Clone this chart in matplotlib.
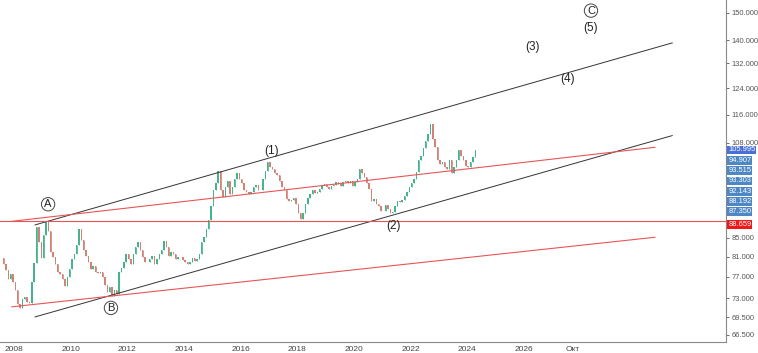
import numpy as np
import pandas as pd
import matplotlib
matplotlib.use("Agg")
import matplotlib.pyplot as plt
from matplotlib.transforms import blended_transform_factory

# ---------------- DATA ----------------
# monthly closes, Jul 2007 .. Apr 2024
closes = [
    80.8, 79.5, 78.3, 76.6, 77.5, 76.0,                                    # 2007 H2
    74.5, 71.9, 71.2, 72.8, 73.2, 72.3, 72.0, 76.0, 79.7, 87.3, 84.0, 80.8,  # 2008
    85.5, 88.5, 86.5, 82.0, 81.0, 79.5, 78.0, 77.5, 76.5, 75.2, 77.0, 78.5,  # 2009
    80.5, 81.5, 83.5, 86.8, 84.5, 82.5, 81.2, 80.0, 78.5, 79.2, 78.0, 77.8,  # 2010
    78.0, 77.0, 75.5, 74.2, 75.0, 73.4, 74.5, 73.8, 78.0, 78.8, 80.0, 81.6,  # 2011
    80.5, 79.5, 81.5, 83.0, 84.0, 82.5, 81.0, 80.0, 79.9, 80.5, 81.2, 79.5,  # 2012
    80.5, 81.5, 82.5, 84.2, 83.0, 81.2, 82.0, 81.5, 80.5, 81.0, 81.0, 80.3,  # 2013
    80.0, 79.5, 79.9, 80.8, 80.2, 80.5, 81.5, 84.0, 85.2, 87.0, 89.0, 92.0,  # 2014
    95.8, 97.5, 100.5, 96.0, 94.2, 96.5, 98.0, 94.9, 96.5, 98.5, 100.0, 98.5,  # 2015
    97.5, 96.0, 95.5, 94.9, 95.5, 96.5, 97.0, 95.8, 96.0, 98.5, 100.5, 103.0,  # 2016
    101.5, 101.0, 100.0, 99.5, 98.0, 96.5, 95.8, 93.8, 93.3, 93.5, 94.0, 92.5,  # 2017
    90.5, 89.2, 90.5, 92.5, 94.0, 94.9, 95.8, 95.2, 95.5, 96.2, 97.0, 97.3,  # 2018
    96.5, 96.2, 96.8, 97.0, 97.8, 97.3, 96.8, 97.8, 98.0, 97.5, 98.0, 96.8,  # 2019
    97.8, 98.5, 101.0, 100.2, 99.0, 97.5, 96.2, 93.3, 93.8, 92.5, 92.0, 91.0,  # 2020
    90.9, 92.4, 91.5, 90.5, 90.8, 92.0, 93.2, 93.0, 93.6, 94.5, 95.5, 96.5,  # 2021
    97.5, 98.5, 100.3, 103.5, 104.5, 106.5, 108.6, 110.5, 113.4, 109.0, 107.0, 103.5,  # 2022
    102.5, 103.0, 101.5, 101.0, 103.5, 100.2, 101.5, 103.5, 106.2, 104.5, 103.5, 102.0,  # 2023
    101.5, 103.0, 104.3, 106.0,                                            # 2024
]
dates = pd.date_range("2007-07-01", periods=len(closes), freq="MS")

# channel / trend lines: (year, price) start and end
black_lines = [((2008.74, 87.8), (2031.25, 139.0)),
               ((2008.74, 69.6), (2031.25, 110.0))]
red_lines = [((2007.92, 88.6), (2030.64, 106.8)),
             ((2007.92, 71.4), (2030.64, 85.1))]
red_level = 88.659

# wave labels
wave_text = ["(1)", "(2)", "(3)", "(4)", "(5)"]
wave_x = [2017.08, 2021.39, 2026.3, 2027.54, 2028.38]
wave_y = [105.7, 87.5, 137.7, 127.0, 144.4]
circ_text = ["A", "B", "C"]
circ_x = [2009.2, 2011.42, 2028.38]
circ_y = [92.5, 71.2, 150.8]

y_ticks = [150, 140, 132, 124, 116, 108, 85, 81, 77, 73, 69.5, 66.5]
x_ticks = [2008, 2010, 2012, 2014, 2016, 2018, 2020, 2022, 2024, 2026, 2027.75]
x_labels = ["2008", "2010", "2012", "2014", "2016", "2018", "2020", "2022", "2024", "2026", "Окт"]

price_tags = ["105.995", "94.907", "93.515", "93.303", "92.143", "88.192", "87.350", "88.659"]
tag_colors = ["#4a6fd6"] + ["#4d88c4"] * 6 + ["#f01818"]

# ---------------- FIGURE ----------------
plt.rcParams["font.family"] = ["Liberation Sans", "DejaVu Sans"]
fig = plt.figure(figsize=(7.58, 3.53), dpi=100)
ax = fig.add_axes([0, 1 - 342 / 353, 726 / 758, 342 / 353])

t = dates.year + (dates.month - 1) / 12 + 1 / 24
t = np.asarray(t, dtype=float)
c = np.array(closes)
o = np.concatenate([[c[0]], c[:-1]])
up = c >= o
ax.bar(t[up], c[up] - o[up], bottom=o[up], width=0.05, color="#45b48a", linewidth=0)
ax.bar(t[~up], o[~up] - c[~up], bottom=c[~up], width=0.05, color="#d08478", linewidth=0)
ax.vlines(t, np.minimum(o, c), np.maximum(o, c), colors=np.where(up, "#45b48a", "#d08478"), linewidth=0.6)

for (x0, y0), (x1, y1) in black_lines:
    ax.plot([x0, x1], [y0, y1], color="#333333", lw=0.7)
for (x0, y0), (x1, y1) in red_lines:
    ax.plot([x0, x1], [y0, y1], color="#e85555", lw=0.8)
ax.axhline(red_level, color="#e85555", lw=0.8)

for s, x, y in zip(wave_text, wave_x, wave_y):
    ax.text(x, y, s, ha="center", va="center", fontsize=8.5, color="#222222")
for s, x, y in zip(circ_text, circ_x, circ_y):
    ax.text(x, y, s, ha="center", va="center", fontsize=8, color="#222222",
            bbox=dict(boxstyle="circle,pad=0.15", fc="white", ec="#444444", lw=0.7))

ax.set_yscale("log")
ax.set_xlim(2007.5, 2033.15)
ax.set_ylim(65.33, 154.9)

ax.yaxis.tick_right()
ax.set_yticks(y_ticks)
ax.set_yticklabels(["%.3f" % v for v in y_ticks])
ax.yaxis.set_minor_locator(matplotlib.ticker.NullLocator())
ax.tick_params(axis="y", labelsize=5.4, colors="#555555", length=2.5, width=0.6, pad=1.2)
ax.set_xticks(x_ticks)
ax.set_xticklabels(x_labels)
ax.tick_params(axis="x", labelsize=6, colors="#444444", length=0, pad=3)

for side in ["top", "left"]:
    ax.spines[side].set_visible(False)
for side in ["bottom", "right"]:
    ax.spines[side].set_color("#888888")
    ax.spines[side].set_linewidth(0.8)

# stacked price tags on the right axis
tr = blended_transform_factory(ax.transAxes, fig.transFigure)
for i, (s, col) in enumerate(zip(price_tags, tag_colors)):
    ypx = 150 + i * 10.3 + (2 if i == len(price_tags) - 1 else 0)
    ax.text(1.003, 1 - ypx / 353, s, transform=tr, ha="left", va="center", fontsize=5.4,
            color="white", clip_on=False,
            bbox=dict(boxstyle="square,pad=0.12", fc=col, ec="none"))

fig.savefig("out.png", dpi=100)
